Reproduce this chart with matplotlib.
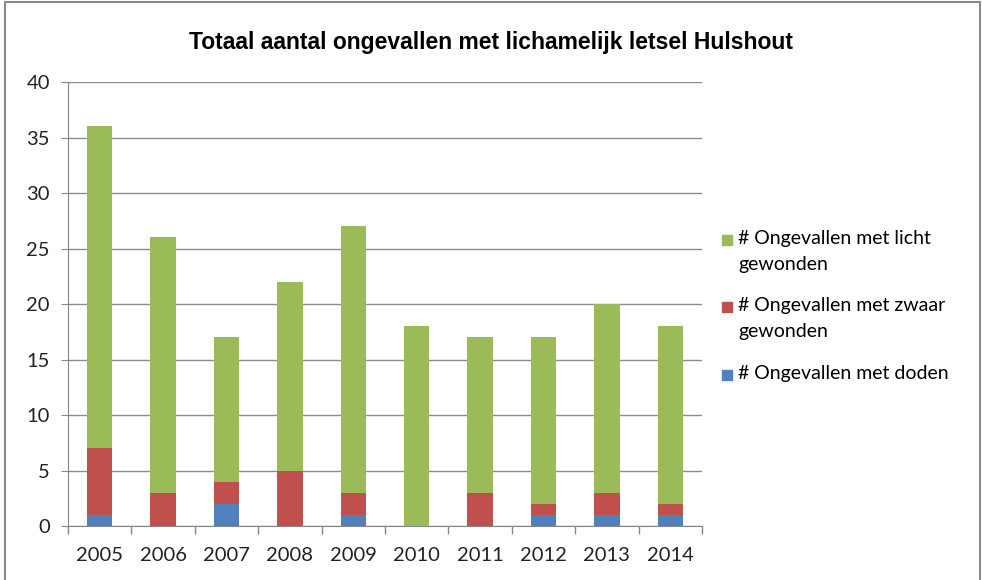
import matplotlib
matplotlib.use("Agg")
import matplotlib.pyplot as plt
import numpy as np
from matplotlib.patches import Rectangle

# Yearly accident counts, Hulshout ----------------------------
years  = ['2005', '2006', '2007', '2008', '2009', '2010', '2011', '2012', '2013', '2014']
doden  = [1, 0, 2, 0, 1, 0, 0, 1, 1, 1]
zwaar  = [6, 3, 2, 5, 2, 0, 3, 1, 2, 1]
licht  = [29, 23, 13, 17, 24, 18, 14, 15, 17, 16]

labels = ['# Ongevallen met doden',
          '# Ongevallen met zwaar\ngewonden',
          '# Ongevallen met licht\ngewonden']
colors = ['#4f81bd', '#c0504d', '#9bbb59']

W, H = 982, 580
fig = plt.figure(figsize=(W / 100, H / 100), dpi=100)
ax = fig.add_axes([0.0692, 0.0931, 0.6457, 0.7655])

x = np.arange(len(years))
w = 0.4
bottom = np.zeros(len(years))
for vals, col, lab in zip([doden, zwaar, licht], colors, labels):
    ax.bar(x, vals, w, bottom=bottom, color=col, label=lab, zorder=3)
    bottom += np.array(vals)

ax.set_ylim(0, 40)
ax.set_xlim(-0.5, len(years) - 0.5)
ax.set_yticks(np.arange(0, 41, 5))
ax.set_xticks(x)
ax.set_xticklabels(years)
ax.set_xticks(np.arange(-0.5, len(years), 1), minor=True)
ax.tick_params(axis='x', which='major', length=0, pad=15)
ax.tick_params(axis='x', which='minor', length=6, color='#868686', width=1)
ax.tick_params(axis='y', length=5, color='#868686', direction='out', pad=8)
for t in ax.get_xticklabels() + ax.get_yticklabels():
    t.set_fontfamily('Lato')
    t.set_fontsize(14.5)
    t.set_color('#222222')

ax.yaxis.grid(True, color='#8c8c8c', linewidth=1, zorder=0)
ax.set_axisbelow(True)
for s in ['top', 'right']:
    ax.spines[s].set_visible(False)
ax.spines['left'].set_color('#868686')
ax.spines['bottom'].set_color('#868686')

fig.text(0.5, 1 - 42 / H, 'Totaal aantal ongevallen met lichamelijk letsel Hulshout',
         ha='center', va='center', fontsize=16.5, fontweight='bold',
         family='Liberation Sans', color='black')

# legend drawn by hand: square marker next to the first text line
legend_rows = [240, 307, 375]   # pixel y of first line, top-down
for row, col, lab in zip(legend_rows, colors[::-1], labels[::-1]):
    fig.patches.append(Rectangle((722 / W, 1 - (row + 5) / H), 10 / W, 10 / H,
                                 transform=fig.transFigure, color=col))
    fig.text(738 / W, 1 - (row - 10) / H, lab, ha='left', va='top',
             family='Lato', fontsize=14, color='black', linespacing=1.65)

# outer chart frame
fig.patches.append(Rectangle((0.005, -0.01), 0.993, 1.006, transform=fig.transFigure,
                             fill=False, edgecolor='#8a8a8a', linewidth=1.5))

fig.savefig('out.png', dpi=100)
